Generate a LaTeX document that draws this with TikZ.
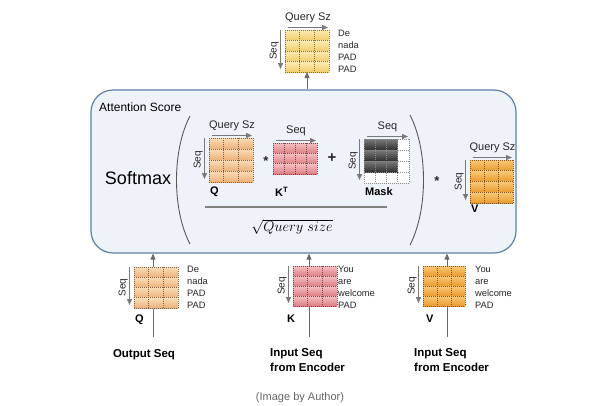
\documentclass[tikz,border=0pt]{standalone}
\usepackage{fontspec}
\setmainfont{Liberation Sans}
\usetikzlibrary{arrows.meta}
\definecolor{boxfill}{HTML}{EEF2F9}
\definecolor{boxline}{HTML}{5F7FA8}
\definecolor{arrgray}{HTML}{6A6A6A}
\definecolor{yelA}{HTML}{FCEBB5}
\definecolor{yelB}{HTML}{F0CC6A}
\definecolor{peaA}{HTML}{FADDB8}
\definecolor{peaB}{HTML}{EDB07A}
\definecolor{pinkA}{HTML}{F5C0C2}
\definecolor{pinkB}{HTML}{DC7E84}
\definecolor{oraA}{HTML}{F9C97A}
\definecolor{oraB}{HTML}{EA9A2C}
\definecolor{maskA}{HTML}{7A7A7A}
\definecolor{maskB}{HTML}{2F2F2F}
\tikzset{
  mframe/.style={draw=none, inner sep=0, outer sep=0},
  gridln/.style={line width=0.7pt, dash pattern=on 0.8pt off 1.2pt},
  dimarrow/.style={draw=arrgray!90, line width=1.3pt, -{Triangle[length=6pt,width=5pt]}},
  conn/.style={draw=arrgray, line width=0.8pt, -{Triangle[length=6pt,width=5pt]}},
  axislbl/.style={font=\fontsize{11}{13}\selectfont, inner sep=0, text=black!85},
  seqlbl/.style={font=\fontsize{10}{12}\selectfont, inner sep=0, rotate=90, anchor=south, text=black!85},
  tokens/.style={font=\fontsize{9.3}{12.1}\selectfont, align=left, inner sep=0, anchor=north west, text=black!85},
  mname/.style={font=\bfseries\fontsize{11}{13}\selectfont, inner sep=0, anchor=north west},
  inlbl/.style={font=\bfseries\fontsize{11.5}{15}\selectfont, align=left, inner sep=0},
  paren/.style={draw=black!65, line width=0.9pt},
  fracline/.style={draw=black!50, line width=1.2pt},
  oper/.style={inner sep=0, text=black!85},
}
% #1 name #2 cx #3 cy #4 cols #5 rows #6 w #7 h #8 light #9 dark
\newcommand\mtx[9]{%
  \node[mframe, minimum width=#6pt, minimum height=#7pt] (#1) at (#2,#3) {};
  \foreach \r in {1,...,#5}{%
    \shade[top color=#8, bottom color=#9]
      ({#2-#6/2},{#3-#7/2+(\r-1)*#7/#5}) rectangle ({#2+#6/2},{#3-#7/2+\r*#7/#5});}
  \foreach \c in {0,...,#4}{%
    \draw[gridln, draw=#9!55!black] ({#2-#6/2+\c*#6/#4},{#3-#7/2}) -- ({#2-#6/2+\c*#6/#4},{#3+#7/2});}
  \foreach \r in {0,...,#5}{%
    \draw[gridln, draw=#9!55!black] ({#2-#6/2},{#3-#7/2+\r*#7/#5}) -- ({#2+#6/2},{#3-#7/2+\r*#7/#5});}
}
\newcommand\topaxis[2]{%
  \draw[dimarrow] ([xshift=3pt,yshift=2.5pt]#1.north west) -- ([xshift=-1pt,yshift=2.5pt]#1.north east)
    node[axislbl, midway, above=4pt] {#2};}
\newcommand\sideaxis[1]{%
  \draw[dimarrow] ([xshift=-4.5pt]#1.north west) -- ([xshift=-4.5pt,yshift=3pt]#1.south west);
  \node[seqlbl] at ([xshift=-6pt]#1.west) {Seq};}
\begin{document}
\begin{tikzpicture}[x=1pt,y=-1pt]
\fill[white] (0,0) rectangle (612,405);
\useasboundingbox (0,0) rectangle (612,405);

% attention box
\node[draw=boxline, fill=boxfill, line width=1.2pt, rounded corners=22pt,
      minimum width=425pt, minimum height=163pt, inner sep=0] (box) at (303.5,171.5) {};
\node[font=\fontsize{12}{14}\selectfont, inner sep=0, anchor=west] (attn) at (99,107) {Attention Score};
\node[font=\fontsize{18}{20}\selectfont, inner sep=0] (softmax) at (138,178) {Softmax};

% parentheses and fraction
\draw[paren] (190,116) .. controls (172,150) and (172,210) .. (190,244);
\draw[paren] (410,115) .. controls (428,150) and (428,210) .. (410,245);
\draw[fracline] (205,207) -- (387,207);
\node[font=\fontsize{15}{18}\selectfont, inner sep=0] (den) at (292,227) {$\sqrt{Query\ size}$};

% inner matrices
\mtx{qmat}{231}{160}{3}{4}{44}{44}{peaA}{peaB}
\topaxis{qmat}{Query Sz}
\sideaxis{qmat}
\node[mname] (qlbl) at (210,187) {Q};
\node[oper, font=\bfseries\fontsize{13}{14}\selectfont] (mul1) at (266,161) {*};

\mtx{ktmat}{295}{158.5}{4}{3}{44}{31}{pinkA}{pinkB}
\topaxis{ktmat}{Seq}
\node[mname] (ktlbl) at (275,187) {K\textsuperscript{T}};
\node[oper, font=\bfseries\fontsize{15}{16}\selectfont] (plus) at (332,158) {+};

\node[mframe, minimum width=45pt, minimum height=44pt] (mask) at (386.5,161) {};
\fill[white] (mask.north west) rectangle (mask.south east);
\foreach \r in {1,2,3}{%
  \shade[top color=maskA, bottom color=maskB] (364,{139+(\r-1)*11}) rectangle ({364+3*11.25},{139+\r*11});}
\foreach \c in {0,...,4}{%
  \draw[gridln, draw=black!45] ({364+\c*11.25},139) -- ({364+\c*11.25},183);}
\foreach \r in {0,...,4}{%
  \draw[gridln, draw=black!45] (364,{139+\r*11}) -- (409,{139+\r*11});}
\topaxis{mask}{Seq}
\sideaxis{mask}
\node[mname] (masklbl) at (365,187) {Mask};

\node[oper, font=\bfseries\fontsize{13}{14}\selectfont] (mul2) at (437,181) {*};

\mtx{vmat}{491.5}{181.5}{3}{4}{43}{43}{oraA}{oraB}
\topaxis{vmat}{Query Sz}
\sideaxis{vmat}
\node[mname] (vlbl) at (471,205) {V};

% connectors below (drawn before the bottom matrices)
\coordinate (qin) at (153,337);
\coordinate (kin) at (309,337);
\coordinate (vin) at (447,337);
\draw[conn] (qin) -- (qin |- box.south);
\draw[conn] (kin) -- (kin |- box.south);
\draw[conn] (vin) -- (vin |- box.south);

% top output matrix
\mtx{topm}{307}{51}{3}{4}{44}{42}{yelA}{yelB}
\topaxis{topm}{Query Sz}
\sideaxis{topm}
\node[tokens] (toptok) at ([xshift=9pt]topm.north east) {De\\nada\\PAD\\PAD};
\draw[conn] (topm.south |- box.north) -- (topm.south);

% bottom matrices
\mtx{qbot}{156}{287.5}{3}{4}{44}{41}{peaA}{peaB}
\sideaxis{qbot}
\node[tokens] (qtok) at ([xshift=9pt,yshift=1pt]qbot.north east) {De\\nada\\PAD\\PAD};
\node[mname] (qblbl) at (135,315) {Q};

\mtx{kbot}{315}{286}{3}{4}{44}{40}{pinkA}{pinkB}
\sideaxis{kbot}
\node[tokens] (ktok) at ([xshift=1pt,yshift=0pt]kbot.north east) {You\\are\\welcome\\PAD};
\node[mname] (kblbl) at (287,315) {K};

\mtx{vbot}{444}{286}{3}{4}{42}{40}{oraA}{oraB}
\sideaxis{vbot}
\node[tokens] (vtok) at ([xshift=10pt,yshift=0pt]vbot.north east) {You\\are\\welcome\\PAD};
\node[mname] (vblbl) at (426,315) {V};

% bottom captions
\node[inlbl, anchor=base] (outseq) at (144,357) {Output Seq};
\node[inlbl, anchor=north west] (inseqk) at (270,348) {Input Seq\\from Encoder};
\node[inlbl, anchor=north west] (inseqv) at (414,348) {Input Seq\\from Encoder};

\node[font=\fontsize{11}{13}\selectfont, text=black!60, inner sep=0] (credit) at (300,398) {(Image by Author)};
\end{tikzpicture}
\end{document}
